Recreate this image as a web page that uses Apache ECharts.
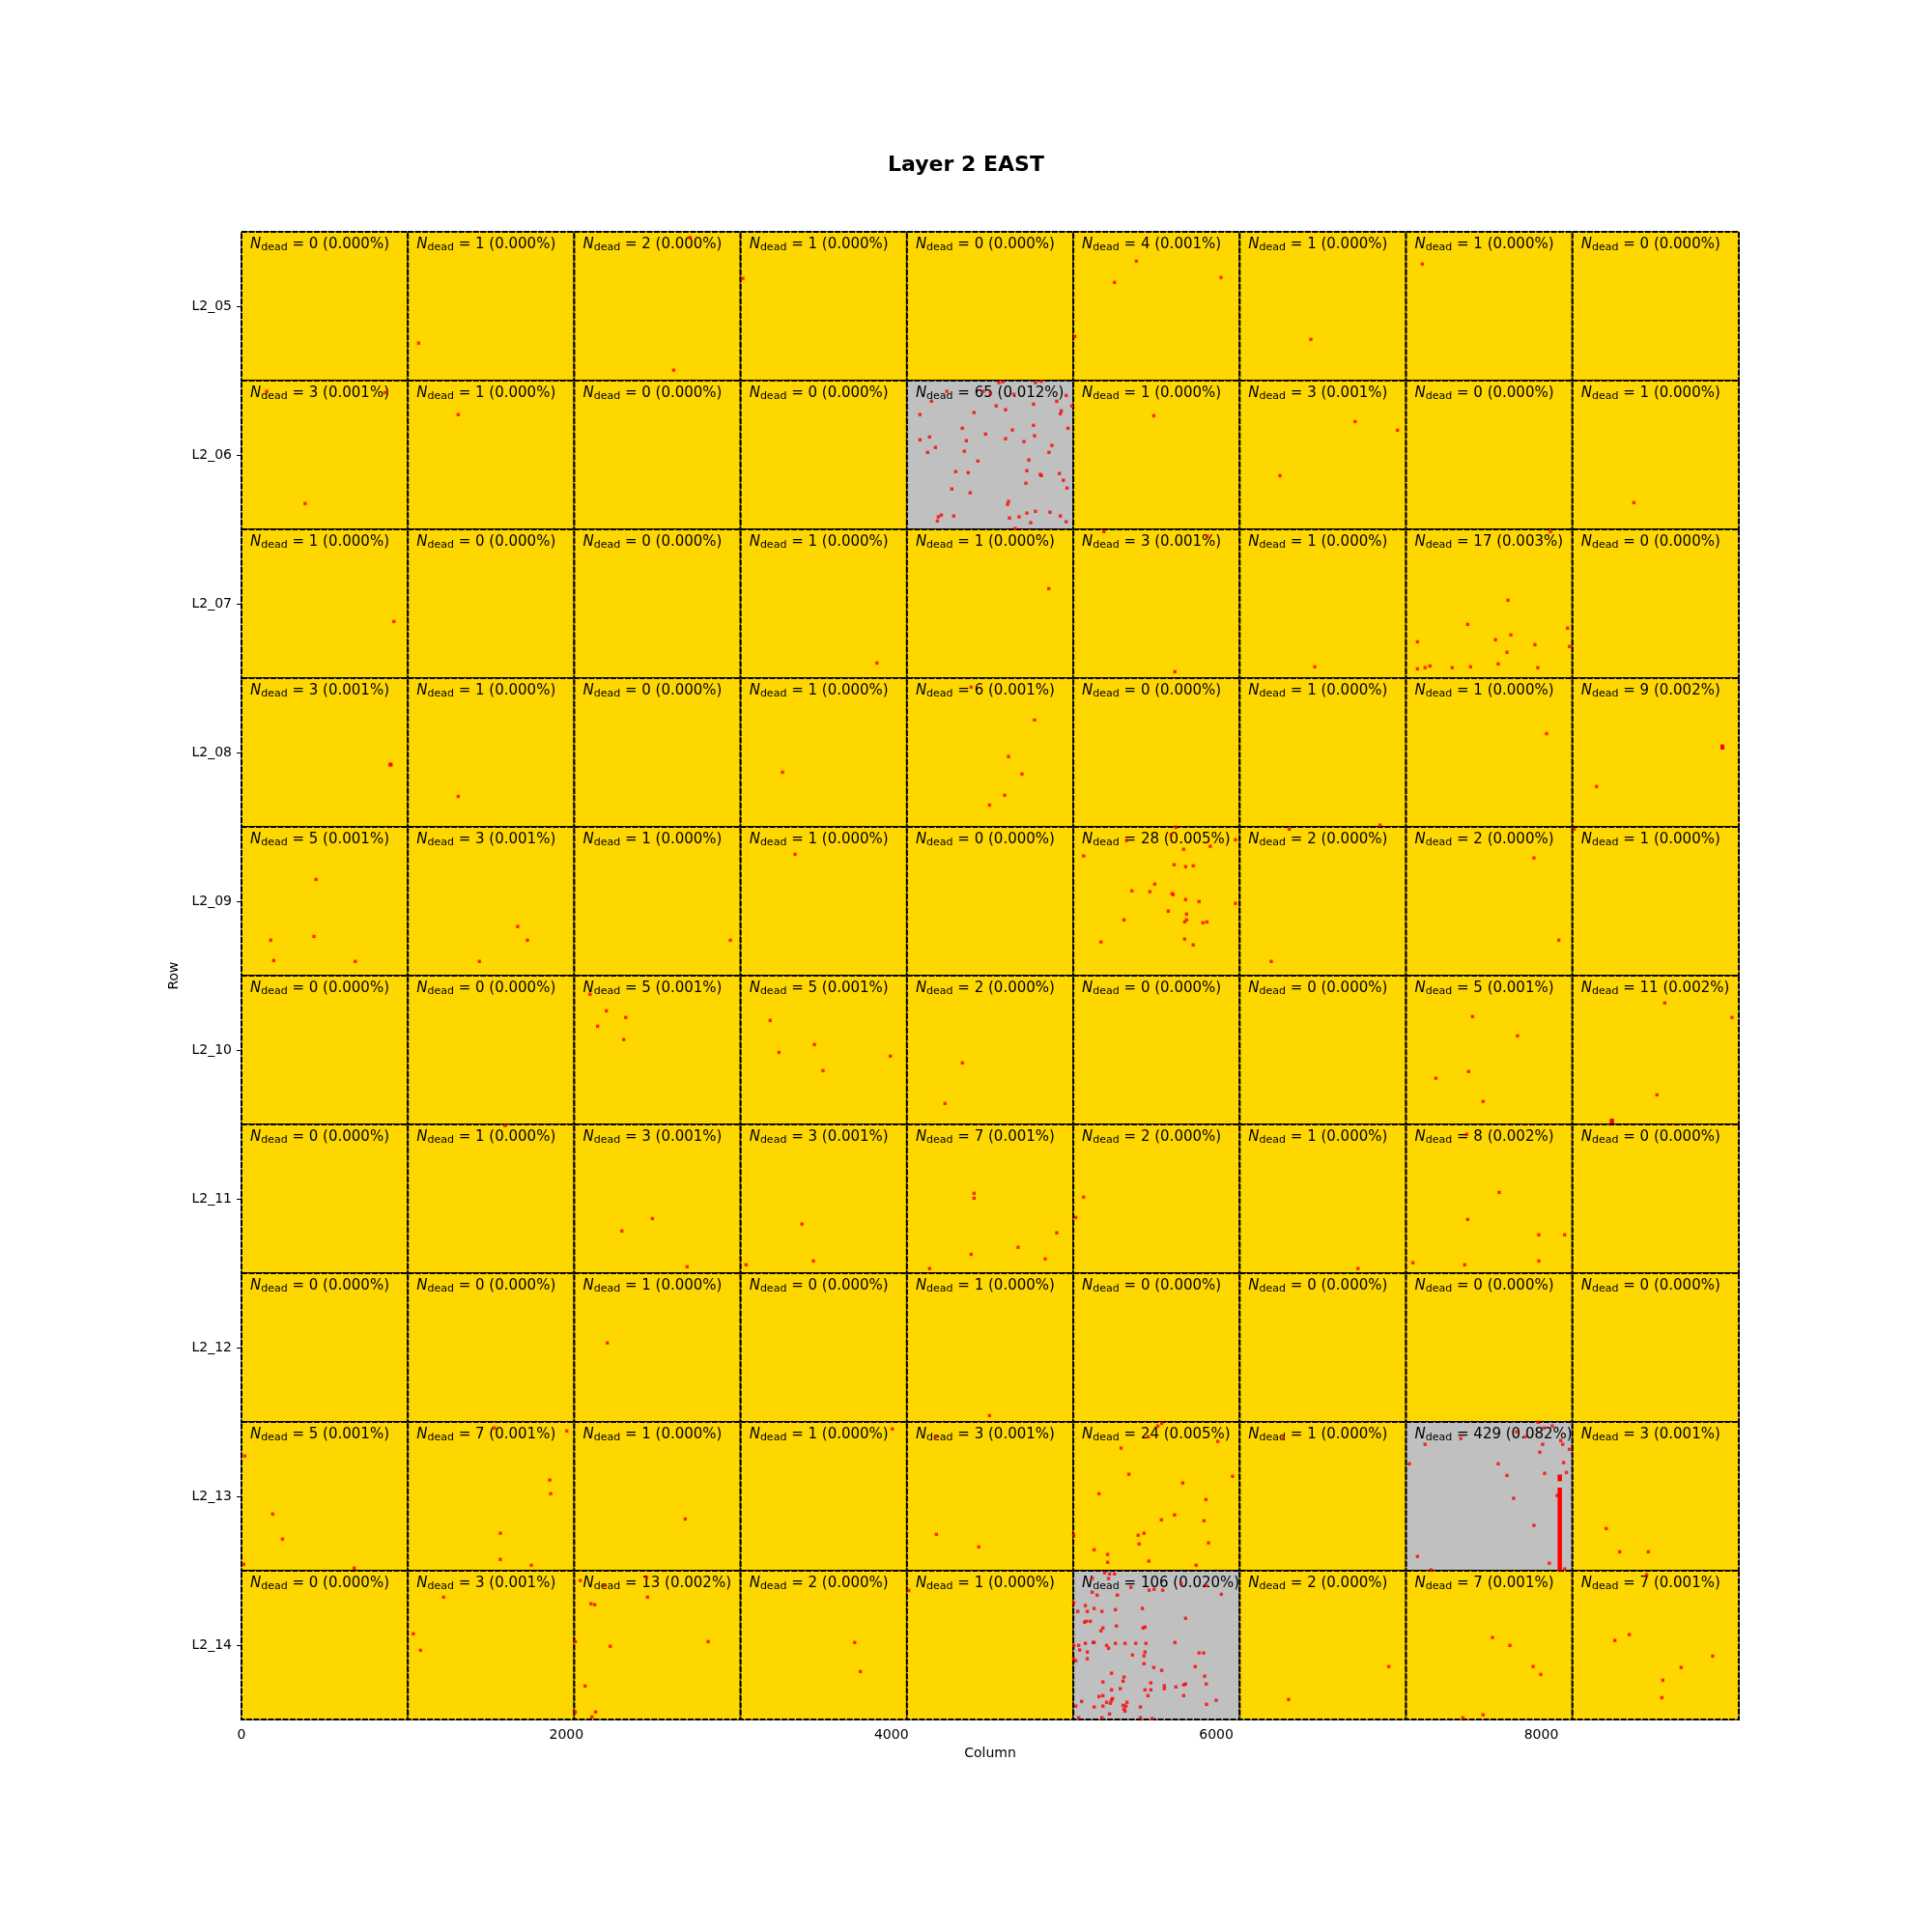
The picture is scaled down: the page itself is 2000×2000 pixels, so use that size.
<!DOCTYPE html>
<html>
<head>
<meta charset="utf-8">
<script src="https://cdn.jsdelivr.net/npm/echarts@6/dist/echarts.min.js"></script>
<style>
  html, body { margin: 0; padding: 0; background: #fff; }
  #chart { width: 2000px; height: 2000px; }
</style>
</head>
<body>
<div id="chart"></div>
<script>
// module rows, top to bottom
const rowNames = ['L2_05', 'L2_06', 'L2_07', 'L2_08', 'L2_09', 'L2_10', 'L2_11', 'L2_12', 'L2_13', 'L2_14']
const xTicks = [0, 2000, 4000, 6000, 8000]

// dead pixel count per module, one line per row, 9 modules across
const deadCounts = [
  [0, 1, 2, 1, 0, 4, 1, 1, 0],
  [3, 1, 0, 0, 65, 1, 3, 0, 1],
  [1, 0, 0, 1, 1, 3, 1, 17, 0],
  [3, 1, 0, 1, 6, 0, 1, 1, 9],
  [5, 3, 1, 1, 0, 28, 2, 2, 1],
  [0, 0, 5, 5, 2, 0, 0, 5, 11],
  [0, 1, 3, 3, 7, 2, 1, 8, 0],
  [0, 0, 1, 0, 1, 0, 0, 0, 0],
  [5, 7, 1, 1, 3, 24, 1, 429, 3],
  [0, 3, 13, 2, 1, 106, 2, 7, 7]
]

// dead pixels, [column, row] (row counted from the top)
const deadPixels = [
  // L2_05
  [1090, 383], [2660, 476], [2761, 20], [3086, 160], [5508, 101], [5373, 174], [6029, 157], [5129, 360],
  [6582, 370], [7268, 111],
  // L2_06
  [155, 549], [884, 553], [392, 935], [1334, 629], [5615, 633], [6854, 653], [7115, 683], [6392, 839], [8570, 932],
  [4661, 519], [4685, 516], [4887, 519], [4923, 514], [4342, 549], [4566, 549], [4610, 556], [4754, 559],
  [5076, 563], [4247, 583], [5018, 583], [4875, 593], [5111, 599], [4645, 599], [4703, 612], [4176, 629],
  [4509, 622], [5046, 616], [5040, 626], [4875, 666], [5087, 676], [4437, 676], [4580, 696], [4745, 682],
  [4235, 706], [4176, 716], [4461, 719], [4703, 712], [4881, 702], [4816, 722], [4271, 742], [4223, 759],
  [4449, 755], [4988, 735], [4970, 759], [4532, 789], [4846, 785], [4396, 825], [4473, 829], [4834, 822],
  [4917, 835], [4923, 839], [5034, 832], [5058, 855], [4828, 865], [5081, 882], [4372, 885], [4485, 898],
  [4721, 928], [4715, 938], [4289, 981], [4307, 975], [4283, 995], [4384, 978], [4727, 985], [4786, 981],
  [4834, 968], [4887, 962], [4976, 965], [4858, 1001], [5040, 978], [5076, 998], [4762, 1021],
  // L2_07
  [938, 1341], [3911, 1484], [4969, 1228], [5308, 1032], [5944, 1048], [5745, 1514], [6606, 1497],
  [8057, 1032], [7795, 1268], [7547, 1351], [7238, 1411], [7718, 1404], [7813, 1387], [8162, 1364],
  [7961, 1421], [7789, 1447], [8174, 1427], [7238, 1504], [7285, 1500], [7315, 1494], [7452, 1500],
  [7565, 1497], [7735, 1487], [7979, 1500],
  // L2_08
  [914, 1833], [921, 1833], [918, 1835], [1334, 1943], [3330, 1860], [4491, 1567], [4881, 1680], [4721, 1806],
  [4804, 1866], [4697, 1939], [4604, 1973], [7008, 2042], [8033, 1727], [8340, 1909],
  [9113, 1770], [9115, 1773], [9117, 1776], [9114, 1776], [9116, 1770], [9113, 1773], [9117, 1773], [9115, 1776],
  // L2_09
  [458, 2229], [180, 2438], [446, 2425], [198, 2508], [700, 2511], [1700, 2391], [1760, 2438], [1464, 2511],
  [3009, 2438], [3407, 2142],
  [5751, 2049], [5722, 2075], [5448, 2095], [6118, 2092], [5183, 2148], [5799, 2125], [5963, 2115], [5740, 2178],
  [5811, 2185], [5858, 2182], [5621, 2245], [5480, 2268], [5591, 2271], [5728, 2278], [5734, 2281], [5811, 2298],
  [5894, 2305], [6118, 2311], [5704, 2338], [5817, 2348], [5432, 2368], [5805, 2375], [5817, 2368], [5918, 2378],
  [5942, 2375], [5290, 2444], [5805, 2434], [5858, 2454],
  [6449, 2056], [6338, 2511], [7955, 2155], [8108, 2438], [8203, 2056],
  // L2_10
  [2145, 2624], [2246, 2681], [2365, 2704], [2192, 2734], [2353, 2780], [3254, 2714], [3308, 2824], [3526, 2797],
  [3579, 2887], [3994, 2837], [4437, 2860], [4330, 3000], [7577, 2701], [7854, 2767], [7351, 2913], [7553, 2890],
  [7642, 2993], [8760, 2654], [9174, 2704], [8712, 2970],
  [8432, 3057], [8435, 3060], [8438, 3063], [8433, 3062], [8437, 3058], [8434, 3063], [8436, 3059], [8435, 3061],
  // L2_11
  [1623, 3076], [2529, 3396], [2341, 3439], [2743, 3562], [3106, 3555], [3449, 3415], [3520, 3542], [4509, 3309],
  [4509, 3326], [4235, 3568], [4491, 3519], [4780, 3495], [4947, 3535], [5018, 3445], [5183, 3322], [5135, 3392],
  [6872, 3568], [7541, 3106], [7741, 3306], [7547, 3399], [7985, 3452], [8144, 3452], [7210, 3548], [7529, 3555],
  [7985, 3542],
  // L2_12
  [2252, 3824], [4604, 4074],
  // L2_13
  [20, 4213], [192, 4413], [252, 4499], [14, 4586], [694, 4599], [1558, 4117], [2002, 4127], [1897, 4296],
  [1903, 4343], [1593, 4479], [1593, 4569], [1784, 4589], [2731, 4430], [4006, 4120], [4273, 4147], [4277, 4483],
  [4538, 4526],
  [5664, 4101], [5640, 4110], [5581, 4147], [6009, 4163], [5414, 4186], [5462, 4276], [6100, 4283], [5793, 4306],
  [5278, 4343], [5936, 4363], [5743, 4416], [5662, 4433], [5924, 4436], [5519, 4486], [5555, 4479], [5122, 4486],
  [5525, 4516], [5952, 4512], [5248, 4536], [5331, 4552], [5331, 4579], [5585, 4575], [5876, 4589],
  [6411, 4150],
  [7981, 4097], [8015, 4117], [8068, 4110], [7848, 4130], [7902, 4147], [7505, 4153], [7285, 4173], [8009, 4173],
  [8120, 4160], [8132, 4173], [8173, 4190], [7991, 4200], [7188, 4240], [7735, 4240], [8138, 4236], [8155, 4270],
  [7789, 4280], [8021, 4273], [7830, 4359], [8098, 4349], [7955, 4452], [7238, 4559], [8050, 4582], [8144, 4602],
  [7321, 4605],
  [8400, 4463], [8483, 4543], [8659, 4543],
  // L2_14
  [1244, 4699], [1057, 4825], [1102, 4882], [2085, 4642], [2234, 4659], [2493, 4632], [2499, 4699], [2151, 4722],
  [2174, 4725], [2055, 4852], [2270, 4868], [2872, 4852], [2115, 5005], [2055, 5094], [2180, 5094], [2157, 5111],
  [3774, 4855], [3809, 4955], [4107, 4676],
  [5313, 4615], [5343, 4619], [5373, 4619], [5236, 4635], [5337, 4635], [5474, 4665], [5587, 4675], [5617, 4672],
  [5670, 4675], [5783, 4652], [5938, 4659], [5236, 4682], [5266, 4692], [5391, 4692], [6031, 4689], [5122, 4718],
  [5194, 4728], [5248, 4738], [5147, 4748], [5206, 4748], [5296, 4748], [5379, 4742], [5545, 4738], [5189, 4785],
  [5224, 4782], [5200, 4782], [5811, 4772], [5385, 4798], [5302, 4805], [5290, 4815], [5549, 4805], [5561, 4802],
  [5123, 4865], [5153, 4865], [5194, 4858], [5242, 4855], [5248, 4855], [5325, 4865], [5337, 4875], [5379, 4858],
  [5438, 4858], [5504, 4858], [5567, 4858], [5745, 4855], [5159, 4881], [5206, 4888], [5484, 4898], [5555, 4901],
  [5561, 4888], [5894, 4891], [5922, 4891], [5122, 4911], [5135, 4918], [5206, 4911], [5555, 4928], [5615, 4941],
  [5664, 4951], [5870, 4938], [5355, 4961], [5432, 4974], [5426, 4988], [5302, 4991], [5597, 4994], [5928, 4971],
  [5938, 4998], [5355, 5018], [5409, 5014], [5561, 5018], [5597, 5018], [5680, 5004], [5680, 5014], [5751, 5008],
  [5799, 5001], [5811, 4998], [5278, 5041], [5302, 5038], [5579, 5038], [5799, 5038], [5171, 5058], [5355, 5054],
  [5361, 5048], [5325, 5061], [5349, 5064], [5450, 5061], [5426, 5071], [5444, 5074], [5432, 5084], [5438, 5091],
  [5135, 5074], [5248, 5077], [5302, 5074], [5533, 5077], [5940, 5068], [5999, 5054], [5153, 5114], [5296, 5114],
  [5343, 5101], [5533, 5114], [5605, 5117],
  [7062, 4938], [6445, 5051], [7700, 4838], [7807, 4865], [7950, 4938], [7997, 4965], [7517, 5114], [7642, 5104],
  [8649, 4622], [8453, 4848], [8542, 4828], [9055, 4902], [8861, 4941], [8748, 4985], [8742, 5045]
]

// runs of dead pixels down one column: [column, firstRow, lastRow]
const deadColumnRuns = [
  [8114, 4277, 4300],
  [8114, 4322, 4607]
]

const MOD_W = 1024
const MOD_H = 512
const PIX_PER_MOD = MOD_W * MOD_H
const GRAY_LIMIT = 0.01 // percent

const chart = echarts.init(document.getElementById('chart'), null, { renderer: 'canvas' })

const cellData = []
deadCounts.forEach((row, r) => {
  row.forEach((n, c) => cellData.push([c, r, n]))
})

const font = 'DejaVu Sans'
const rowTickValues = rowNames.map((_, i) => i * MOD_H + MOD_H / 2)

chart.setOption({
  animation: false,
  backgroundColor: '#fff',
  title: {
    text: 'Layer 2 EAST',
    left: 'center',
    top: 155,
    textStyle: { fontFamily: font, fontSize: 22, fontWeight: 'bold', color: '#000' }
  },
  grid: {
    left: 250,
    top: 240,
    width: 1550,
    height: 1540,
    show: true,
    borderColor: '#000',
    borderWidth: 1,
    backgroundColor: 'transparent'
  },
  xAxis: {
    type: 'value',
    min: 0,
    max: MOD_W * 9,
    name: 'Column',
    nameLocation: 'middle',
    nameGap: 27,
    nameTextStyle: { fontFamily: font, fontSize: 14, color: '#000' },
    splitLine: { show: false },
    axisLine: { show: true, lineStyle: { color: '#000', width: 1 } },
    axisTick: { show: true, length: 5, customValues: xTicks, lineStyle: { color: '#000' } },
    axisLabel: {
      customValues: xTicks,
      formatter: v => String(v),
      margin: 9,
      fontFamily: font,
      fontSize: 14,
      color: '#000'
    }
  },
  yAxis: {
    type: 'value',
    min: 0,
    max: MOD_H * rowNames.length,
    inverse: true,
    name: 'Row',
    nameLocation: 'middle',
    nameGap: 57,
    nameRotate: 90,
    nameTextStyle: { fontFamily: font, fontSize: 14, color: '#000' },
    splitLine: { show: false },
    axisLine: { show: true, lineStyle: { color: '#000', width: 1 } },
    axisTick: { show: true, length: 5, customValues: rowTickValues, lineStyle: { color: '#000' } },
    axisLabel: {
      customValues: rowTickValues,
      formatter: v => rowNames[Math.floor(v / MOD_H)],
      margin: 10,
      fontFamily: font,
      fontSize: 14,
      color: '#000'
    }
  },
  series: [
    {
      // module tiles with their N_dead label
      type: 'custom',
      z: 1,
      data: cellData,
      renderItem (params, api) {
        const c = api.value(0)
        const r = api.value(1)
        const n = api.value(2)
        const p0 = api.coord([c * MOD_W, r * MOD_H])
        const p1 = api.coord([(c + 1) * MOD_W, (r + 1) * MOD_H])
        const pct = n / PIX_PER_MOD * 100
        return {
          type: 'group',
          children: [
            {
              type: 'rect',
              shape: { x: p0[0], y: p0[1], width: p1[0] - p0[0], height: p1[1] - p0[1] },
              style: {
                fill: pct > GRAY_LIMIT ? '#C0C0C0' : '#FFD700',
                stroke: '#000',
                lineWidth: 2,
                lineDash: [6, 1.5]
              }
            },
            {
              type: 'text',
              x: p0[0] + 9,
              y: p0[1] + 4,
              z2: 5,
              style: {
                text: '{n|N}{s|dead}{t| = ' + n + ' (' + pct.toFixed(3) + '%)}',
                align: 'left',
                verticalAlign: 'top',
                fill: '#000',
                fontFamily: font,
                fontSize: 15,
                rich: {
                  n: { fontFamily: font, fontSize: 15, fontStyle: 'italic', lineHeight: 18, fill: '#000' },
                  s: { fontFamily: font, fontSize: 11, lineHeight: 11, verticalAlign: 'bottom', fill: '#000' },
                  t: { fontFamily: font, fontSize: 15, lineHeight: 18, fill: '#000' }
                }
              }
            }
          ]
        }
      }
    },
    {
      // dead column runs
      type: 'custom',
      z: 3,
      data: deadColumnRuns,
      renderItem (params, api) {
        const a = api.coord([api.value(0), api.value(1)])
        const b = api.coord([api.value(0), api.value(2)])
        return {
          type: 'line',
          shape: { x1: a[0], y1: a[1], x2: b[0], y2: b[1] },
          style: { stroke: '#FF0000', lineWidth: 4.5 }
        }
      }
    },
    {
      type: 'scatter',
      z: 3,
      symbol: 'rect',
      symbolSize: 3.4,
      itemStyle: { color: '#FF0000' },
      data: deadPixels
    }
  ]
})
</script>
</body>
</html>
